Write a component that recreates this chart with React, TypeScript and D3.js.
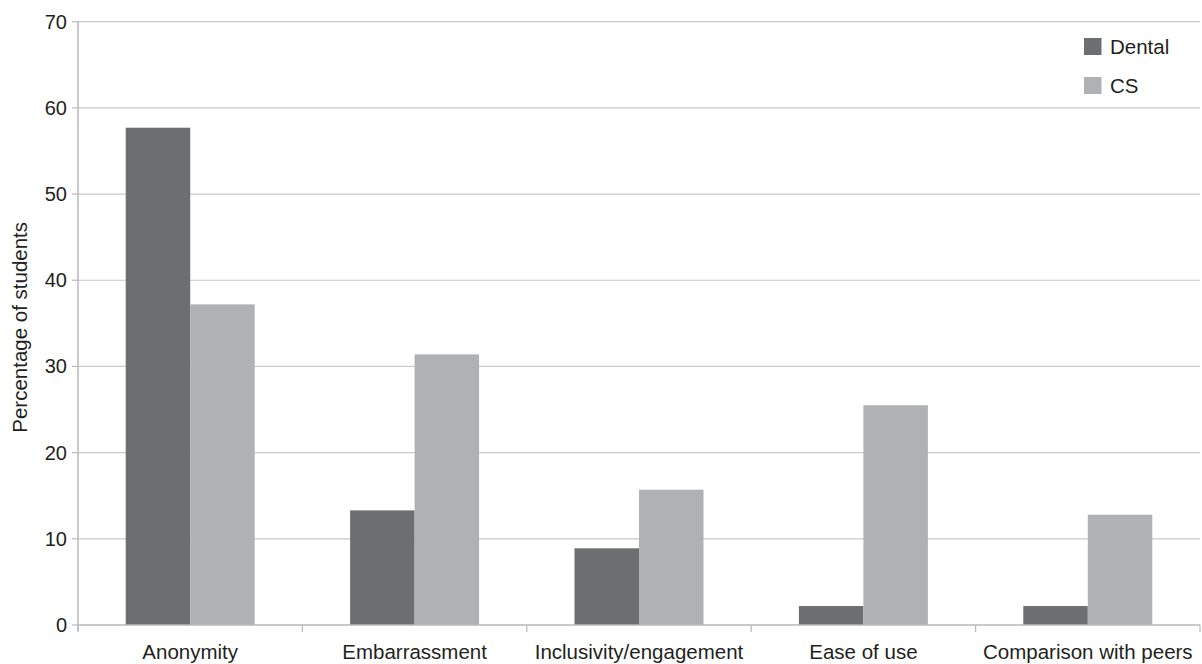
import React from "react";
import * as d3 from "d3";

const categories = ["Anonymity", "Embarrassment", "Inclusivity/engagement", "Ease of use", "Comparison with peers"];
const seriesNames = ["Dental", "CS"];
const dentalValues = [57.7, 13.3, 8.9, 2.2, 2.2];
const csValues = [37.2, 31.4, 15.7, 25.5, 12.8];
const yTicks = [0, 10, 20, 30, 40, 50, 60, 70];
const colors = ["#6d6e70", "#b0b1b3"];

const W = 1202, H = 664;
const left = 78, right = 1200, top = 21.7, bottom = 625;

export default function App() {
  const x = d3.scaleBand<string>().domain(categories).range([left, right]).paddingInner(0).paddingOuter(0);
  const inner = d3.scaleBand<string>().domain(seriesNames).range([0, x.bandwidth()]).paddingInner(0).paddingOuter(0.74);
  const y = d3.scaleLinear().domain([0, 70]).range([bottom, top]);
  const series = [dentalValues, csValues];
  const font = "'Liberation Sans', Arial, sans-serif";
  return (
    <svg width={W} height={H} style={{ position: "absolute", left: 0, top: 0 }} fontFamily={font}>
      <rect width={W} height={H} fill="#fff" />
      {yTicks.map((t) => (
        <g key={t}>
          {t > 0 && <line x1={left} x2={right} y1={y(t)} y2={y(t)} stroke="#c8c9cc" strokeWidth={1.2} />}
          <line x1={left - 6} x2={left} y1={y(t)} y2={y(t)} stroke="#b8b9bc" strokeWidth={1.2} />
          <text x={left - 11} y={y(t)} dy="0.35em" textAnchor="end" fontSize={20} fill="#231f20">{t}</text>
        </g>
      ))}
      {categories.map((c, i) =>
        series.map((vals, s) => (
          <rect key={c + s} x={x(c)! + inner(seriesNames[s])!} width={inner.bandwidth()} y={y(vals[i])} height={y(0) - y(vals[i])} fill={colors[s]} />
        ))
      )}
      <line x1={left} x2={left} y1={top} y2={bottom + 6} stroke="#b8b9bc" strokeWidth={1.5} />
      <line x1={left} x2={right} y1={bottom} y2={bottom} stroke="#b8b9bc" strokeWidth={1.5} />
      {[...categories.map((c) => x(c)!), right].map((v, i) => (
        <line key={i} x1={v} x2={v} y1={bottom} y2={bottom + 7} stroke="#b8b9bc" strokeWidth={1.2} />
      ))}
      {categories.map((c) => (
        <text key={c} x={x(c)! + x.bandwidth() / 2} y={659} textAnchor="middle" fontSize={20.5} fill="#231f20">{c}</text>
      ))}
      <text transform={`translate(27,${(top + bottom) / 2 + 4}) rotate(-90)`} textAnchor="middle" fontSize={20.5} fill="#231f20">Percentage of students</text>
      {seriesNames.map((n, i) => (
        <g key={n} transform={`translate(1084,${38 + i * 39})`}>
          <rect width={17.5} height={17} fill={colors[i]} />
          <text x={26} y={16} fontSize={20.5} fill="#231f20">{n}</text>
        </g>
      ))}
    </svg>
  );
}
